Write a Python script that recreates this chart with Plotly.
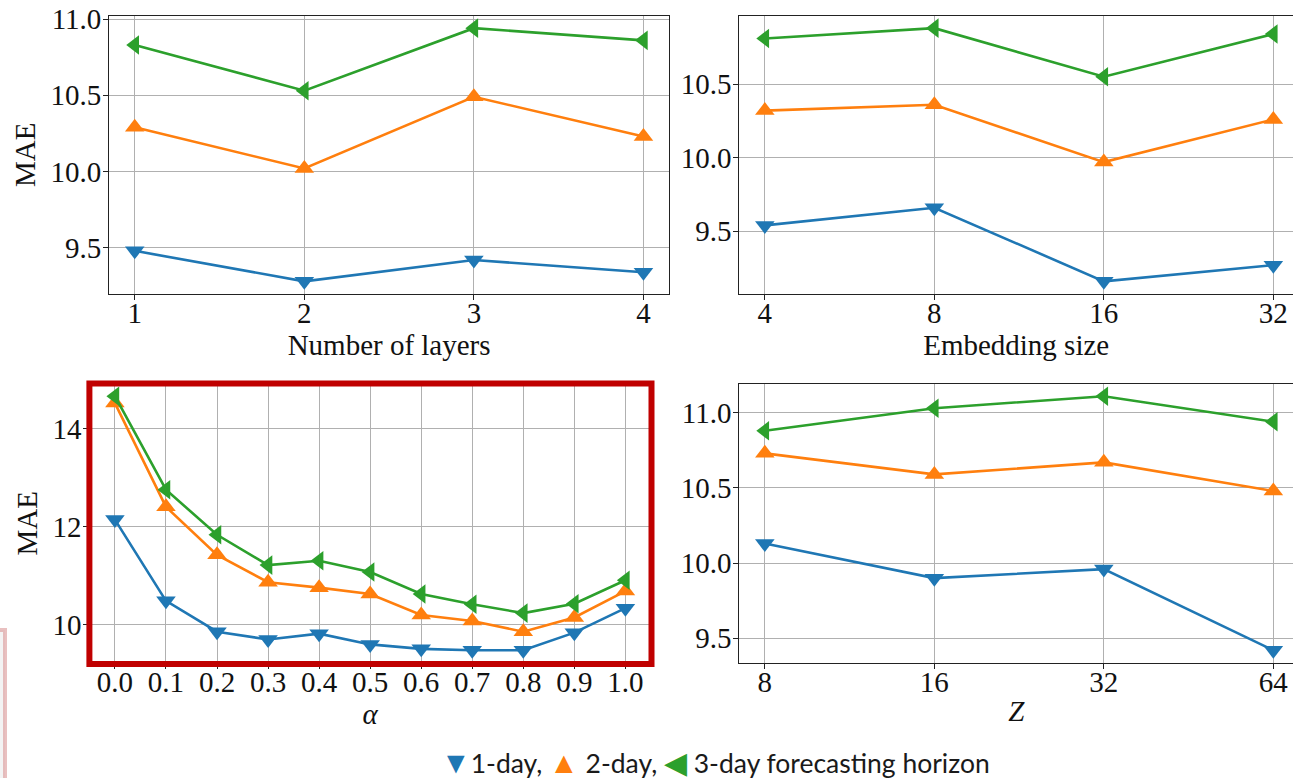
import plotly.graph_objects as go

# ---- data -------------------------------------------------------------
layers = [1, 2, 3, 4]
layers_1d = [9.48, 9.28, 9.42, 9.34]
layers_2d = [10.29, 10.02, 10.49, 10.23]
layers_3d = [10.83, 10.53, 10.94, 10.86]

emb_sizes = ["4", "8", "16", "32"]
emb_1d = [9.54, 9.66, 9.16, 9.27]
emb_2d = [10.32, 10.36, 9.97, 10.26]
emb_3d = [10.81, 10.88, 10.55, 10.84]

alphas = [0.0, 0.1, 0.2, 0.3, 0.4, 0.5, 0.6, 0.7, 0.8, 0.9, 1.0]
alpha_1d = [12.14, 10.48, 9.85, 9.69, 9.81, 9.59, 9.50, 9.47, 9.47, 9.83, 10.33]
alpha_2d = [14.52, 12.40, 11.42, 10.86, 10.75, 10.62, 10.19, 10.07, 9.85, 10.14, 10.68]
alpha_3d = [14.66, 12.75, 11.83, 11.21, 11.30, 11.07, 10.62, 10.41, 10.23, 10.42, 10.90]

z_sizes = ["8", "16", "32", "64"]
z_1d = [10.13, 9.90, 9.96, 9.42]
z_2d = [10.73, 10.59, 10.67, 10.48]
z_3d = [10.88, 11.03, 11.11, 10.94]

# ---- style ------------------------------------------------------------
W, H = 1293, 778
BLUE, ORANGE, GREEN = "#1f77b4", "#ff7f0e", "#2ca02c"
SERIF = "Liberation Serif, serif"
TICK_FONT = dict(family=SERIF, size=29, color="#111")
LABEL_FONT = dict(family=SERIF, size=29, color="#111")


def px_x(p):
    return p / W


def px_y(p):
    return 1 - p / H


def auto_range(*series):
    vals = [v for s in series for v in s]
    lo, hi = min(vals), max(vals)
    pad = 0.05 * (hi - lo)
    return [lo - pad, hi + pad]


fig = go.Figure()

panels = [
    (layers, (layers_1d, layers_2d, layers_3d), "x", "y"),
    (emb_sizes, (emb_1d, emb_2d, emb_3d), "x2", "y2"),
    (alphas, (alpha_1d, alpha_2d, alpha_3d), "x3", "y3"),
    (z_sizes, (z_1d, z_2d, z_3d), "x4", "y4"),
]
symbols = ["triangle-down", "triangle-up", "triangle-left"]
colors = [BLUE, ORANGE, GREEN]
names = ["1-day", "2-day", "3-day"]

for xs, series, xa, ya in panels:
    for ys, sym, col, nm in zip(series, symbols, colors, names):
        fig.add_trace(go.Scatter(
            x=xs, y=ys, xaxis=xa, yaxis=ya, name=nm, showlegend=False,
            mode="lines+markers",
            line=dict(color=col, width=2.6),
            marker=dict(symbol=sym, size=17, color=col),
            cliponaxis=False,
        ))

top_row = [px_y(294), px_y(15.5)]
bot_row = [px_y(663), px_y(383.5)]

COMMON = dict(showgrid=True, gridcolor="#b0b0b0", gridwidth=1,
              showline=True, linecolor="#222", linewidth=1.3, mirror=True,
              ticks="outside", ticklen=5, tickwidth=1, tickcolor="#222",
              tickfont=TICK_FONT, zeroline=False, automargin=False)


def xaxis_style(domain, anchor, title, rng, standoff=0, **kw):
    d = dict(domain=domain, anchor=anchor, range=rng,
             title=dict(text=title, font=LABEL_FONT, standoff=standoff),
             ticklabelstandoff=-12, **COMMON)
    d.update(kw)
    return d


def yaxis_style(domain, anchor, title, rng, **kw):
    d = dict(domain=domain, anchor=anchor, range=rng,
             title=dict(text=title, font=LABEL_FONT, standoff=6),
             ticklabelstandoff=-4, **COMMON)
    d.update(kw)
    return d


fig.update_layout(
    width=W, height=H,
    margin=dict(l=0, r=0, t=0, b=0, autoexpand=False),
    paper_bgcolor="white", plot_bgcolor="white",
    xaxis=xaxis_style([px_x(109.3), px_x(668.9)], "y", "Number of layers",
                      [0.85, 4.15], tickvals=layers),
    yaxis=yaxis_style(top_row, "x", "MAE",
                      auto_range(layers_1d, layers_2d, layers_3d),
                      tickvals=[9.5, 10.0, 10.5, 11.0], tickformat=".1f"),
    # right-hand panels run off the page edge, so no right spine is drawn
    xaxis2=xaxis_style([px_x(739.4), 1.0], "y2", "Embedding size",
                       [-0.15, 3.116], type="category"),
    yaxis2=yaxis_style(top_row, "x2", "",
                       auto_range(emb_1d, emb_2d, emb_3d),
                       tickvals=[9.5, 10.0, 10.5], tickformat=".1f",
                       mirror=False),
    xaxis3=xaxis_style([px_x(89.4), px_x(650.9)], "y3", "<i>α</i>",
                       [-0.05, 1.05], tickvals=alphas, tickformat=".1f",
                       standoff=3),
    yaxis3=yaxis_style(bot_row, "x3", "MAE",
                       auto_range(alpha_1d, alpha_2d, alpha_3d),
                       tickvals=[10, 12, 14]),
    xaxis4=xaxis_style([px_x(739.4), 1.0], "y4", "<i>Z</i>",
                       [-0.15, 3.116], type="category", standoff=3),
    yaxis4=yaxis_style(bot_row, "x4", "",
                       auto_range(z_1d, z_2d, z_3d),
                       tickvals=[9.5, 10.0, 10.5, 11.0], tickformat=".1f",
                       mirror=False),
)

# highlight frame around the alpha panel
fig.add_shape(type="rect", xref="paper", yref="paper",
              x0=px_x(89.4), x1=px_x(651.5), y0=px_y(664), y1=px_y(383.5),
              line=dict(color="#c00000", width=6), layer="above")

# partially visible box at the left edge
fig.add_shape(type="rect", xref="paper", yref="paper",
              x0=px_x(-20), x1=px_x(5), y0=px_y(800), y1=px_y(630),
              fillcolor="#f3f3f3", line=dict(color="rgba(215,140,140,0.55)", width=4),
              layer="below")

# shared legend line
legend_text = (
    f"<span style='color:{BLUE};font-size:30px'>▼</span>1-day, "
    f"<span style='color:{ORANGE};font-size:30px'>▲</span> 2-day, "
    f"<span style='color:{GREEN};font-size:30px'>◀</span> 3-day forecasting horizon"
)
fig.add_annotation(text=legend_text, xref="paper", yref="paper",
                   x=px_x(715), y=px_y(761), xanchor="center", yanchor="middle",
                   showarrow=False,
                   font=dict(family="Lato", size=26.5, color="#1a1a1a"))

fig.write_html("out.html")
